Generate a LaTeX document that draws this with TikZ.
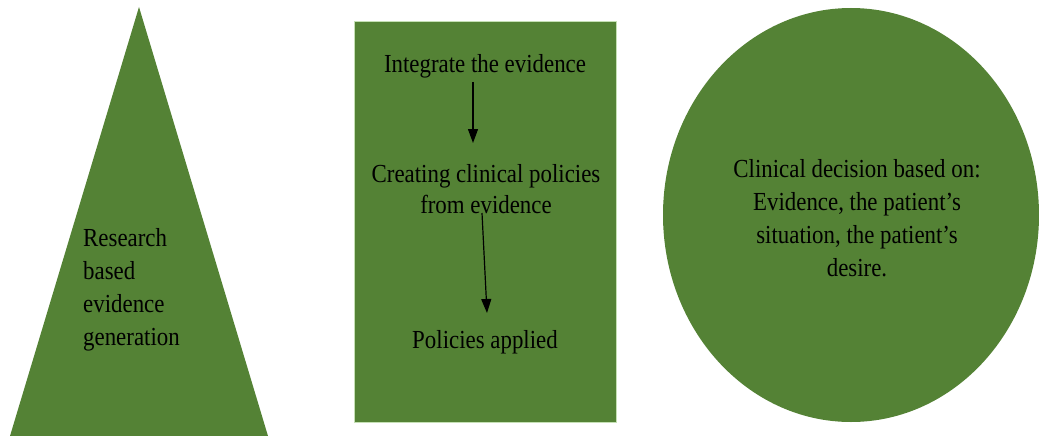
\documentclass[tikz,border=0pt]{standalone}
\usepackage{fontspec}
\setmainfont[FakeStretch=0.88]{Liberation Serif}
\usetikzlibrary{arrows.meta}
\definecolor{leaf}{HTML}{548235}
\definecolor{leafedge}{HTML}{C5E0B4}
\begin{document}
\begin{tikzpicture}[x=1pt,y=-1pt,
  label/.style={text=black,font=\fontsize{26}{31}\selectfont,inner sep=0pt},
  flow/.style={-{Triangle[length=14pt,width=10pt]},line width=1.2pt,black}]
\useasboundingbox (0,0) rectangle (1039,436);
% left: research pyramid
\fill[leaf] (139,7) -- (268,436) -- (10,436) -- cycle;
\node[label,align=left,anchor=west,font=\fontsize{26}{33}\selectfont] (res) at (83,290)
  {Research\\based\\evidence\\generation};
% middle: policy column
\draw[leafedge,line width=1pt,fill=leaf] (354,22) rectangle (616,422);
\node[label] (int) at (485,66) {Integrate the evidence};
\node[label,align=center] (cre) at (486,189) {Creating clinical policies\\from evidence};
\node[label] (app) at (485,342) {Policies applied};
\draw[flow] ([xshift=-12pt,yshift=-16pt]int.center) -- ([xshift=-13pt,yshift=46pt]cre.center);
\draw[flow] ([xshift=-4pt,yshift=-24pt]cre.center) -- ([xshift=2pt,yshift=29pt]app.center);
% right: decision circle
\fill[leaf] (851,215) ellipse [x radius=188, y radius=207];
\node[label,align=center,font=\fontsize{26}{33}\selectfont] (dec) at (857,218)
  {Clinical decision based on:\\Evidence, the patient's\\situation, the patient's\\desire.};
\end{tikzpicture}
\end{document}
